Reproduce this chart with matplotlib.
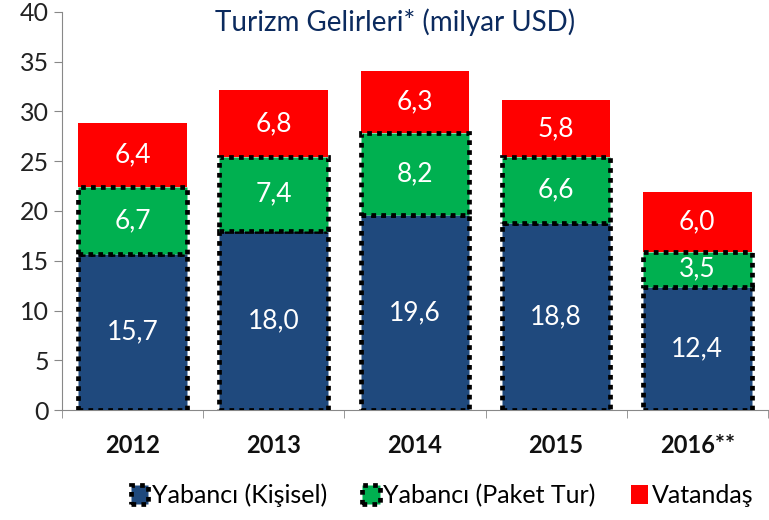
import numpy as np
import matplotlib.pyplot as plt

plt.rcParams['font.family'] = ['Lato', 'DejaVu Sans']

years = ['2012', '2013', '2014', '2015', '2016**']
kisisel = [15.7, 18.0, 19.6, 18.8, 12.4]
paket = [6.7, 7.4, 8.2, 6.6, 3.5]
vatandas = [6.4, 6.8, 6.3, 5.8, 6.0]

navy = '#1F497D'
green = '#00B050'
red = '#FF0000'

fig = plt.figure(figsize=(7.69, 5.20), dpi=100)
ax = fig.add_axes([0.0806, 0.2115, 0.918, 0.7655])

x = np.arange(len(years))
w = 0.77
dots = (0, (1.0, 1.1))
lw = 3.4

b1 = ax.bar(x, kisisel, w, color=navy, edgecolor='black', linewidth=lw,
            linestyle=dots, label='Yabancı (Kişisel)', zorder=3)
b2 = ax.bar(x, paket, w, bottom=kisisel, color=green, edgecolor='black',
            linewidth=lw, linestyle=dots, label='Yabancı (Paket Tur)', zorder=3)
bottom3 = [a + b for a, b in zip(kisisel, paket)]
b3 = ax.bar(x, vatandas, w, bottom=bottom3, color=red, linewidth=0,
            label='Vatandaş', zorder=2)

def fmt(v):
    return f'{v:.1f}'.replace('.', ',')

for i in range(len(years)):
    ax.text(x[i], kisisel[i] / 2, fmt(kisisel[i]), ha='center', va='center',
            color='white', fontsize=19, zorder=5)
    ax.text(x[i], kisisel[i] + paket[i] / 2, fmt(paket[i]), ha='center',
            va='center', color='white', fontsize=19, zorder=5)
    ax.text(x[i], bottom3[i] + vatandas[i] / 2, fmt(vatandas[i]), ha='center',
            va='center', color='white', fontsize=19, zorder=5)

ax.set_xlim(-0.5, 4.5)
ax.set_ylim(0, 40)
ax.set_yticks(range(0, 41, 5))
ax.set_xticks(x)
ax.set_xticklabels(years, fontsize=17, fontweight='bold', color='#111111')
ax.set_xticks(np.arange(-0.5, 4.6, 1), minor=True)
ax.tick_params(axis='x', which='major', length=0, pad=17)
ax.tick_params(axis='x', which='minor', length=6, color='#888888', direction='out')
ax.tick_params(axis='y', length=6, color='#888888', labelsize=18, labelcolor='#222222')

for s in ['top', 'right']:
    ax.spines[s].set_visible(False)
ax.spines['left'].set_color('#888888')
ax.spines['bottom'].set_color('#888888')

ax.text(1.86, 39.0, 'Turizm Gelirleri* (milyar USD)', ha='center', va='center',
        fontsize=20, color='#0B2A5E')

fig.legend(handles=[b1, b2, b3], loc='center', bbox_to_anchor=(0.575, 0.048),
           ncol=3, frameon=False, fontsize=18, handlelength=0.7,
           handleheight=0.8, handletextpad=0.15, columnspacing=1.4)

fig.savefig('out.png', dpi=100)
